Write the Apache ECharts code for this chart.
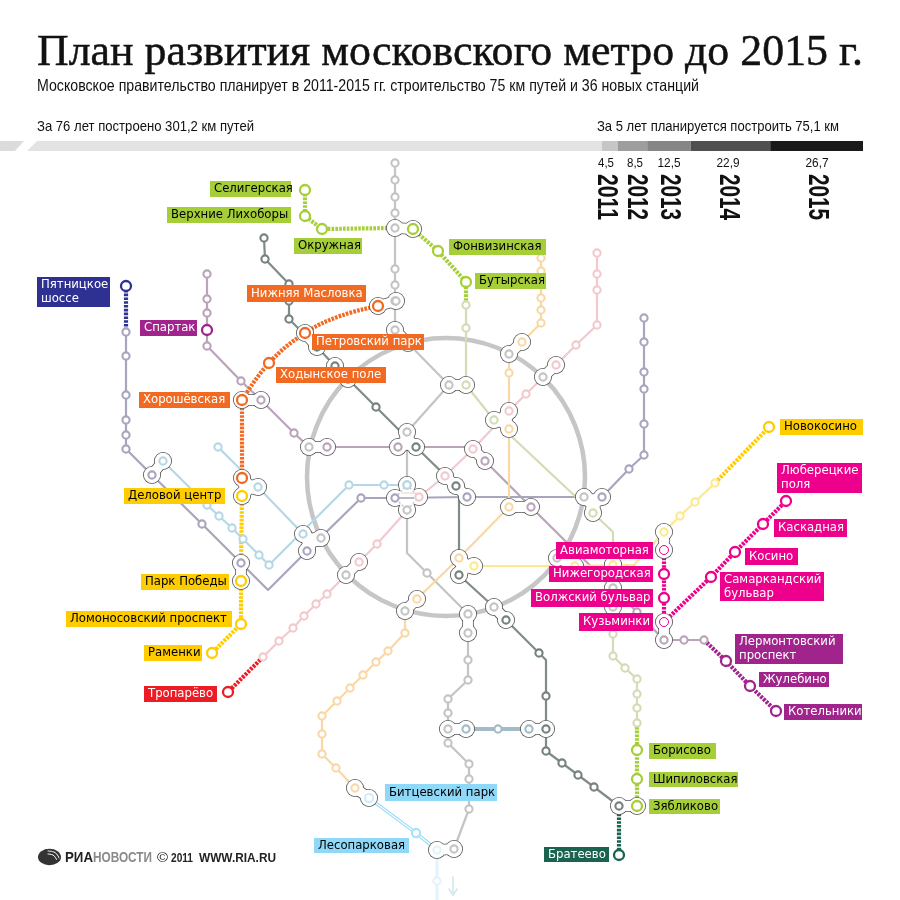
<!DOCTYPE html>
<html><head><meta charset="utf-8">
<style>html,body{margin:0;padding:0;background:#fff}#c{width:900px;height:900px}</style>
<script src="https://cdn.jsdelivr.net/npm/echarts@6/dist/echarts.min.js"></script>
</head><body><div id="c"></div>
<script>
// ---- Existing lines: [x,y] station, [x,y,0] bend only
const lineGrey=[[395,163],[395,180],[395,197],[395,213],[395,228],[395,269],[395,285],[395,301],[395,330],[449,385],[407,432],[407,485],[407,510],[407,553,0],[427,573],[468,614],[468,633],[468,660],[468,680],[448,699],[448,713],[448,729],[448,743],[469,764],[469,779],[469,809],[454,849]];
const lineDark=[[264,238],[265,259],[289,284],[289,301],[289,319],[317,347],[335,366],[348,379],[376,407],[416,447],[456,486],[459,490,0],[459,575],[494,607,0],[506,620],[539,653],[546,660,0],[546,696],[546,729],[546,751],[562,763],[578,775],[594,787],[619,806]];
const linePurple=[[207,274],[207,299],[207,313],[207,346],[241,381],[261,400],[294,433],[309,447,0],[327,447],[398,447],[465,447,0],[485,461],[531,507],[637,612],[664,640],[684,640],[704,640]];
const lineSlate=[[126,332],[126,356],[126,395],[126,420],[126,435],[126,449],[152,475],[202,524],[241,563],[268,590,0],[307,551],[361,498],[395,498],[467,497],[602,497],[629,469],[644,455],[644,424],[644,389],[644,372],[644,342],[644,318]];
const linePink=[[597,253],[597,274],[597,290],[597,325],[576,345],[556,365],[526,394],[509,411],[473,449],[445,476],[419,497],[377,544],[359,562],[327,594],[316,604],[304,616],[293,628],[279,641],[263,657]];
const lineOrange=[[541,258],[541,271],[541,284],[541,298],[541,310],[541,323],[522,342],[509,354,0],[509,373],[509,429],[509,507],[459,558],[417,599],[405,611,0],[405,633],[388,651],[376,662],[363,675],[350,688],[337,701],[322,716],[322,734],[322,754],[336,768],[355,788]];
const lineGreen=[[466,305],[466,328],[466,385],[494,420],[593,513],[613,532,0],[613,565,0],[613,634],[613,656],[625,668],[637,679],[637,694],[637,708],[637,723]];
const lineYellow=[[474,566],[575,566],[613,565],[634,565,0],[664,532],[680,516],[695,502],[715,483]];
const lineBlueA=[[218,447],[258,487],[303,534]];
const lineBlueB=[[163,461],[207,505],[219,516],[232,528],[243,539],[259,555],[269,565],[349,485],[384,485],[407,485]];
const lineSteel=[[466,729],[498,729],[529,729]];
const linePale=[[437,850],[437,881],[437,905,0]];
const lineSky=[[369,798],[416,833],[437,850,0]];
const circleStations=[[396,301],[408,343],[509,354],[543,377],[584,497],[557,558],[494,607],[405,611],[346,575],[321,538],[309,447],[613,588],[613,607]];
// ---- Planned lines
const newGreenA=[[305,190],[305,216],[322,229],[395,228,0]];
const newGreenB=[[413,229],[438,251],[466,282],[466,305,0]];
const newGreenC=[[637,723,0],[637,750],[637,779],[637,806]];
const newOrangeArc=[[378,306],[340,316,0],[305,333],[269,363],[242,400]];
const newOrangeB=[[242,400,0],[242,478]];
const newYellowA=[[242,496],[241,563,0]];
const newYellowB=[[241,581],[241,624],[212,653]];
const newYellowC=[[715,483,0],[769,427]];
const newRed=[[263,657,0],[228,692]];
const newMagentaA=[[664,550,0],[664,574],[664,598],[664,622,0]];
const newMagentaB=[[664,622,0],[711,577],[735,552],[763,524],[786,501]];
const newPurple=[[704,640,0],[726,661],[750,686],[776,711]];
const newNavy=[[126,286],[126,332,0]];
const newDark=[[619,806,0],[619,855]];
const spartak=[[207,330]];
const thinMagenta=[[664,550],[664,622]];
const hubs=[[[395,228],[413,229]],[[378,306],[396,301]],[[395,330],[408,343]],[[449,385],[466,385]],[[509,354],[522,342]],[[543,377],[556,365]],[[494,420],[509,411],[509,429]],[[398,447],[416,447],[407,432]],[[473,449],[485,461]],[[509,507],[531,507]],[[309,447],[327,447]],[[242,400],[261,400]],[[152,475],[163,461]],[[242,478],[242,496],[258,487]],[[303,534],[321,538],[307,551]],[[241,563],[241,581]],[[346,575],[359,562]],[[459,558],[474,566],[459,575]],[[405,611],[417,599]],[[468,614],[468,633]],[[494,607],[506,620]],[[557,558],[575,566]],[[613,565],[613,565.1]],[[613,588],[613,607]],[[664,532],[664,550]],[[664,622],[664,640]],[[448,729],[466,729]],[[529,729],[546,729]],[[619,806],[637,806]],[[355,788],[369,798]],[[437,850],[454,849]],[[305,333],[317,347]],[[335,366],[348,379]],[[584,497],[602,497],[593,513]],[[407,485],[395,498],[419,497],[407,510]]];
const hubChain=[[445,476],[456,486],[467,497]];
const ringCentre=[[446,477]];
// ---- Budget
const budgetYears=['2011','2012','2013','2014','2015'];
const budgetKm=[4.5,8.5,12.5,22.9,26.7];
const budgetLabels=['4,5','8,5','12,5','22,9','26,7'];
const budgetColors=['#c6c6c6','#9e9e9e','#868686','#505050','#1a1a1a'];
const yearX=[606,636,669,728,817];
const kmX=[606,635,669,728,817];
// ---- Station label boxes
const G='#a6ce39',O='#f26a21',Y='#ffcc00',M='#ec008c',P='#a0248c',S='#8fd8f8';
const stationLabels=[
['Селигерская',210,181,291,197,G,'#000'],['Верхние Лихоборы',167,207,291,223,G,'#000'],['Окружная',294,238,362,254,G,'#000'],['Фонвизинская',449,239,546,255,G,'#000'],['Бутырская',475,273,546,289,G,'#000'],
['Пятницкое\nшоссе',37,277,110,307,'#2e3192','#fff'],['Спартак',140,320,197,336,P,'#fff'],['Нижняя Масловка',247,285,366,302,O,'#fff'],['Петровский парк',312,334,424,350,O,'#fff'],['Ходынское поле',276,367,386,383,O,'#fff'],['Хорошёвская',139,392,230,408,O,'#fff'],
['Деловой центр',124,488,225,504,Y,'#000'],['Парк Победы',141,574,229,590,Y,'#000'],['Ломоносовский проспект',66,611,232,627,Y,'#000'],['Раменки',144,645,202,661,Y,'#000'],['Тропарёво',144,686,217,702,'#ed1c24','#fff'],['Новокосино',780,419,863,435,Y,'#000'],
['Люберецкие\nполя',777,463,862,493,M,'#fff'],['Каскадная',774,519,847,537,M,'#fff'],['Косино',745,548,798,565,M,'#fff'],['Самаркандский\nбульвар',720,572,824,601,M,'#fff'],['Лермонтовский\nпроспект',735,634,843,664,P,'#fff'],['Жулебино',759,672,829,687,P,'#fff'],['Котельники',784,704,862,720,P,'#fff'],
['Авиамоторная',556,542,653,559,M,'#fff'],['Нижегородская',549,566,653,582,M,'#fff'],['Волжский бульвар',531,589,653,607,M,'#fff'],['Кузьминки',579,613,653,631,M,'#fff'],
['Борисово',649,743,716,759,G,'#000'],['Шипиловская',649,772,738,787,G,'#000'],['Зябликово',649,799,720,814,G,'#000'],['Братеево',544,847,609,862,'#1a6350','#fff'],['Битцевский парк',385,784,497,801,S,'#000'],['Лесопарковая',314,838,409,853,S,'#000']];

const cv=document.createElement('canvas').getContext('2d');
function fit(t,font,w){cv.font=font;return w/cv.measureText(t).width;}
function txt(t,x,y,font,w,o){o=o||{};return {type:'text',x:x,y:y,scaleX:fit(t,font,w),rotation:o.rot||0,silent:true,z:50,style:{text:t,font:font,fill:o.fill||'#111',textAlign:o.align||'left',textVerticalAlign:'middle',stroke:o.stroke||null,lineWidth:o.lw||0}};}
const sans='"Liberation Sans"',serif='"Liberation Serif"';
const graphics=[
 txt('План развития московского метро до 2015 г.',37,53,'45px '+serif,826,{fill:'#111',stroke:'#111',lw:0.5}),
 txt('Московское правительство планирует в 2011-2015 гг. строительство 75 км путей и 36 новых станций',37,86,'16.5px '+sans,662),
 txt('За 76 лет построено 301,2 км путей',37,127,'14.5px '+sans,217),
 txt('За 5 лет планируется построить 75,1 км',597,127,'14.5px '+sans,242),
];
budgetYears.forEach((t,i)=>graphics.push(txt(t,yearX[i],197,'bold 29px '+sans,46,{rot:-Math.PI/2,align:'center',fill:'#111'})));
budgetLabels.forEach((t,i)=>graphics.push(txt(t,kmX[i],163,'13px '+sans,t.length>3?23:16,{align:'center'})));
graphics.push(txt('РИА',65,858.5,'bold 14px '+sans,28,{fill:'#222'}));
graphics.push(txt('НОВОСТИ',93,858.5,'bold 14px '+sans,59,{fill:'#8a8a8a'}));
graphics.push(txt('©',157,858.5,'13px '+sans,11,{fill:'#222'}));
graphics.push(txt('2011',171,858.5,'bold 13px '+sans,22,{fill:'#222'}));
graphics.push(txt('WWW.RIA.RU',199,858.5,'bold 13px '+sans,77,{fill:'#222'}));

const series=[];
const xy=p=>[p[0],p[1]];
const stations=l=>l.filter(p=>p.length===2);
function line(pts,color,width,extra){series.push(Object.assign({type:'line',data:pts.map(xy),symbol:'none',showSymbol:false,silent:true,animation:false,z:3,
 lineStyle:{color:color,width:width,cap:'round',join:'round'}},extra||{}));}
function dash(pts,color,extra){series.push(Object.assign({type:'line',data:pts.map(xy),symbol:'none',showSymbol:false,silent:true,animation:false,z:5,
 lineStyle:{color:color,width:4.2,cap:'butt',join:'round',type:[2.6,1.2]}},extra||{}));}
function rings(pts,color,size,bw,z){series.push({type:'scatter',data:pts.map(xy),symbol:'circle',symbolSize:size,silent:true,animation:false,z:z||8,itemStyle:{color:'#fff',borderColor:color,borderWidth:bw,opacity:1}});}
function disc(pts,color,size,z){series.push({type:'scatter',data:pts.map(xy),symbol:'circle',symbolSize:size,silent:true,animation:false,z:z,itemStyle:{color:color,opacity:1}});}

// big circle line
series.push({type:'scatter',data:ringCentre,symbol:'circle',symbolSize:278,silent:true,animation:false,z:2,itemStyle:{color:'rgba(0,0,0,0)',borderColor:'#c8c5c8',borderWidth:4.5,opacity:1}});
const C={grey:'#c4c4c4',dark:'#7f8c88',purple:'#b9a4ba',slate:'#a8a5bd',pink:'#f2c9ce',orange:'#fad8a6',green:'#d3dcb5',yellow:'#fde98f',blue:'#b5d8e6',steel:'#a3bbc8',pale:'#e2f4fb',sky:'#8fd8f8'};
line(lineGrey,C.grey,2.2);line(lineDark,C.dark,2.2);line(linePurple,C.purple,2.2);line(lineSlate,C.slate,2.2);line(linePink,C.pink,2.2);line(lineOrange,C.orange,2.2);line(lineGreen,C.green,2.2);line(lineYellow,C.yellow,2.2);line(lineBlueA,C.blue,2.2);line(lineBlueB,C.blue,2.2);line(lineSteel,C.steel,4);line(linePale,C.pale,3);
line(lineSky,C.sky,3.4);line(lineSky,'#fff',1.2,{z:4});
// southbound arrow
const arrowShaft=[[453,877],[453,895]];
const arrowHead=[[449,889],[453,895],[457,889]];
line(arrowShaft,'#d4e6ee',1.6);line(arrowHead,'#d4e6ee',1.6);
// dashed planned
const GR='#a6ce39',OR='#f26a21',YE='#ffcc00',RE='#ed1c24',MA='#ec008c',PU='#a0248c',NA='#2e3192',DG='#1a6350';
dash(newGreenA,GR);dash(newGreenB,GR);dash(newGreenC,GR);dash(newOrangeArc,OR,{smooth:0.4});dash(newOrangeB,OR);dash(newYellowA,YE);dash(newYellowB,YE);dash(newYellowC,YE);dash(newRed,RE);dash(newMagentaA,MA);dash(newMagentaB,MA);dash(newPurple,PU);dash(newNavy,NA);dash(newDark,DG);
// interchange blobs: lobes and necks, outline below white
function hubPath(h){if(h.length<3)return h;const c=[h.reduce((a,p)=>a+p[0],0)/h.length,h.reduce((a,p)=>a+p[1],0)/h.length];const out=[];h.forEach((p,i)=>{out.push(p);if(i<h.length-1)out.push(c);});return out;}
const OUT='#555',lobe=18,lobeIn=16.4;
hubs.forEach(h=>{const n=h.length<3?11.5:15;line(hubPath(h),OUT,n,{z:6});line(hubPath(h),'#fff',n-1.6,{z:7});});
line(hubChain,OUT,11.5,{z:6});line(hubChain,'#fff',9.9,{z:7});
const lobes=hubs.flat().concat(hubChain);
disc(lobes,OUT,lobe,6);disc(lobes,'#fff',lobeIn,7);
// inner detail of the central hub
const hubInnerA=[[407,485],[419,497],[407,510],[395,498],[407,485]];
const hubInnerB=[[395,498],[414,498]];
const hubInnerC=[[402,493],[416,493]];
series.push({type:'line',data:hubInnerA,symbol:'none',silent:true,animation:false,z:7.5,lineStyle:{color:'#b9c4d2',width:1.4,type:[2,2]}});
line(hubInnerB,'#77778f',1,{z:7.5});line(hubInnerC,C.pink,1,{z:7.5});
// stations
const R=7.2,B=2.1;
rings(stations(lineGrey),C.grey,R,B);rings(stations(lineDark),'#75827e',R,B);rings(stations(linePurple),C.purple,R,B);rings(stations(lineSlate),C.slate,R,B);rings(stations(linePink),C.pink,R,B);rings(stations(lineOrange),C.orange,R,B);rings(stations(lineGreen),C.green,R,B);rings(stations(lineYellow),C.yellow,R,B);rings(stations(lineBlueA),C.blue,R,B);rings(stations(lineBlueB),C.blue,R,B);rings(stations(lineSteel),C.steel,R,B);rings(stations(linePale),C.pale,R,B);rings(circleStations,C.grey,R,B);
rings([[369,798]],'#cfeefb',R+1,B);rings([[416,833]],'#a6e2fa',R+1,B);
const N=10,NB=2.3;
rings(stations(newGreenA),GR,N,NB,9);rings(stations(newGreenB),GR,N,NB,9);rings(stations(newGreenC),GR,N,NB,9);
rings(stations(newOrangeArc),OR,N,NB,9);rings(stations(newOrangeB),OR,N,NB,9);rings(stations(newYellowA),YE,N,NB,9);rings(stations(newYellowB),YE,N,NB,9);rings(stations(newYellowC),YE,N,NB,9);rings(stations(newRed),RE,N,NB,9);rings(stations(newMagentaA),MA,N,NB,9);rings(stations(newMagentaB),MA,N,NB,9);rings(stations(newPurple),PU,N,NB,9);rings(stations(newNavy),NA,N,NB,9);rings(stations(newDark),DG,N,NB,9);rings(spartak,PU,N,NB,9);
rings(thinMagenta,MA,9,1,9);
// station labels
series.push({type:'scatter',symbolSize:1,silent:true,animation:false,z:20,itemStyle:{color:'rgba(0,0,0,0)',opacity:1},
 data:stationLabels.map(l=>{const two=l[0].includes('\n'),h=l[4]-l[2];return {value:[l[1],(l[2]+l[4])/2],label:{formatter:l[0],backgroundColor:l[5],color:l[6],width:l[3]-l[1]-9,lineHeight:two?14:h,padding:two?[(h-28)/2,5,(h-28)/2,4]:[0,5,0,4]}};}),
 label:{show:true,opacity:1,position:'right',distance:-0.5,fontFamily:'"DejaVu Sans"',fontSize:11.7,align:'left',verticalAlign:'middle',overflow:'none'}});
// budget stacked bar
budgetKm.forEach((v,i)=>series.push({type:'bar',xAxisIndex:1,yAxisIndex:1,stack:'k',data:[v],barWidth:'100%',silent:true,animation:false,itemStyle:{color:budgetColors[i]}}));
// built track: slanted band, through the same pixel scale
const builtBand=[[37,141],[602,141],[602,151],[27,151]];
const builtStub=[[0,141],[24,141],[15,151],[0,151]];
series.push({type:'custom',silent:true,animation:false,z:1,data:[0,1],renderItem:(p,api)=>{const pts=(p.dataIndex?builtStub:builtBand).map(q=>api.coord(q));return {type:'polygon',shape:{points:pts},style:{fill:p.dataIndex?'#dcdcdc':'#e3e3e3'}};}});
// logo
const logoMark=[[49.5,857]];
const logoArcA=[[48,851],[55,852.5],[59,858]];
const logoArcB=[[48,854],[53,855],[56.5,859.5]];
series.push({type:'scatter',data:logoMark,symbol:'circle',symbolSize:[23,16.5],silent:true,animation:false,z:10,itemStyle:{color:'#333',opacity:1}});
line(logoArcA,'#fff',1,{z:11,smooth:0.5});line(logoArcB,'#fff',1,{z:11,smooth:0.5});
const option={animation:false,backgroundColor:'#fff',
 grid:[{left:0,right:0,top:0,bottom:0},{left:602,top:141,width:261,height:10}],
 xAxis:[{type:'value',min:0,max:900,show:false},{type:'value',gridIndex:1,min:0,max:75.1,show:false}],
 yAxis:[{type:'value',min:0,max:900,inverse:true,show:false},{type:'category',gridIndex:1,data:['км'],show:false}],
 graphic:graphics,series:series};
echarts.init(document.getElementById('c'),null,{renderer:'canvas'}).setOption(option);
</script></body></html>
